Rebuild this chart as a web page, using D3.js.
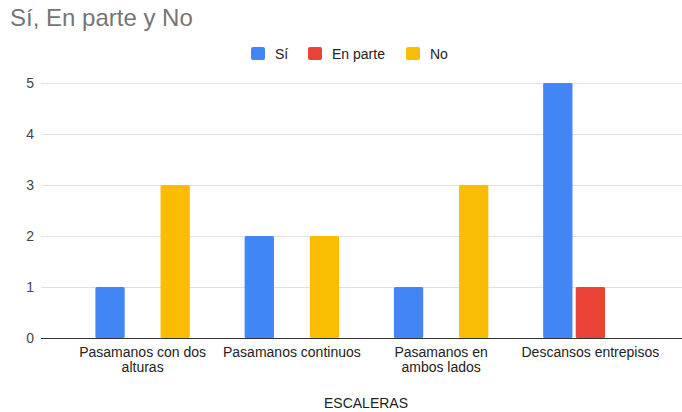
<!DOCTYPE html>
<html>
<head>
<meta charset="utf-8">
<script src="https://cdn.jsdelivr.net/npm/d3@7"></script>
<style>
  html, body { margin: 0; padding: 0; background: #fff; }
  svg { display: block; font-family: "Liberation Sans", Arial, sans-serif; }
</style>
</head>
<body>
<svg id="chart" width="682" height="412"></svg>
<script>
// ---- data ----
const title = "Sí, En parte y No";
const xAxisTitle = "ESCALERAS";
const categories = ["Pasamanos con dos alturas", "Pasamanos continuos", "Pasamanos en ambos lados", "Descansos entrepisos"];
const categoryLabelLines = [["Pasamanos con dos", "alturas"], ["Pasamanos continuos"], ["Pasamanos en", "ambos lados"], ["Descansos entrepisos"]];
const seriesNames = ["Sí", "En parte", "No"];
const siValues = [1, 2, 1, 5];
const enParteValues = [0, 0, 0, 1];
const noValues = [3, 2, 3, 0];
const yTicks = [0, 1, 2, 3, 4, 5];
const seriesColors = ["#4285F4", "#EA4335", "#FBBC04"];

// ---- build ----
const FONT = '"Liberation Sans", Arial, sans-serif';
const seriesValues = [siValues, enParteValues, noValues];
const rows = categories.map((c, i) => ({
  cat: c,
  vals: seriesNames.map((s, j) => ({ key: s, value: seriesValues[j][i], color: seriesColors[j] }))
}));

const svg = d3.select("#chart");

const gridLeft = 41, gridRight = 682;
const y = d3.scaleLinear().domain([0, 5]).range([338, 83]);
const x0 = d3.scaleBand().domain(categories).range([68, 665]).paddingInner(0.367).paddingOuter(0.1835);
const x1 = d3.scaleBand().domain(seriesNames).range([0, x0.bandwidth()]).paddingInner(0.1);

// title
svg.append("text").attr("x", 10).attr("y", 26)
  .attr("font-size", 24).attr("fill", "#757575").text(title);

// gridlines
svg.append("g").selectAll("line").data(yTicks.filter(d => d !== 0)).join("line")
  .attr("x1", gridLeft).attr("x2", gridRight)
  .attr("y1", d => y(d) + 0.5).attr("y2", d => y(d) + 0.5)
  .attr("stroke", "#e0e0e0").attr("stroke-width", 1);

// y axis labels
const yAxis = d3.axisLeft(y).tickValues(yTicks).tickSize(0).tickPadding(0).tickFormat(d3.format("d"));
const yg = svg.append("g").attr("transform", "translate(34,0)").call(yAxis);
yg.select(".domain").remove();
yg.selectAll("text").attr("font-size", 14).attr("fill", "#444").attr("font-family", FONT);

// bars
const groups = svg.append("g").selectAll("g").data(rows).join("g")
  .attr("transform", d => `translate(${x0(d.cat)},0)`);
groups.selectAll("rect").data(d => d.vals.filter(v => v.value > 0)).join("rect")
  .attr("x", d => x1(d.key))
  .attr("y", d => y(d.value))
  .attr("width", x1.bandwidth())
  .attr("height", d => y(0) - y(d.value))
  .attr("rx", 1.5)
  .attr("fill", d => d.color);

// baseline
svg.append("line").attr("x1", gridLeft).attr("x2", gridRight)
  .attr("y1", y(0) + 0.5).attr("y2", y(0) + 0.5)
  .attr("stroke", "#333").attr("stroke-width", 1.2);

// x labels
const xAxis = d3.axisBottom(x0).tickSize(0).tickPadding(0).tickFormat(() => "");
const xg = svg.append("g").attr("transform", `translate(0,${y(0)})`).call(xAxis);
xg.select(".domain").remove();
xg.selectAll(".tick text").remove();
xg.selectAll(".tick").append("text")
  .attr("text-anchor", "middle").attr("font-size", 14).attr("fill", "#222")
  .attr("font-family", FONT)
  .each(function(d, i) {
    const t = d3.select(this);
    categoryLabelLines[i].forEach((line, k) => {
      t.append("tspan").attr("x", 0).attr("y", 19 + k * 15).text(line);
    });
  });

// x axis title
svg.append("text").attr("x", 366).attr("y", 408).attr("text-anchor", "middle")
  .attr("font-size", 14).attr("fill", "#222").text(xAxisTitle);

// legend
const legendX = [251, 308, 406];
const lg = svg.append("g").selectAll("g").data(seriesNames).join("g")
  .attr("transform", (d, i) => `translate(${legendX[i]},47)`);
lg.append("rect").attr("width", 14).attr("height", 13).attr("rx", 2)
  .attr("fill", (d, i) => seriesColors[i]);
lg.append("text").attr("x", 24).attr("y", 11.5).attr("font-size", 14).attr("fill", "#222").text(d => d);
</script>
</body>
</html>
